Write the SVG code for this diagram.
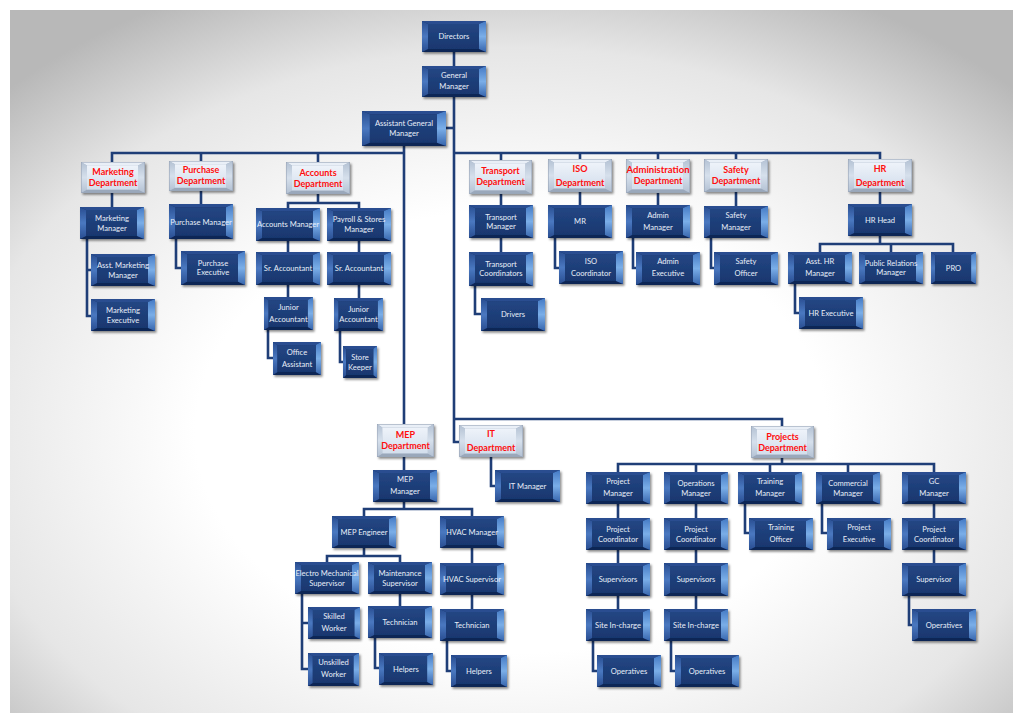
<svg xmlns="http://www.w3.org/2000/svg" xmlns:xlink="http://www.w3.org/1999/xlink" width="1024" height="724" viewBox="0 0 1024 724">
<defs>
<radialGradient id="bg" cx="50%" cy="60%" r="70%">
<stop offset="0.45" stop-color="#ffffff"/>
<stop offset="0.78" stop-color="#e6e6e6"/>
<stop offset="1" stop-color="#b8b8b8"/>
</radialGradient>
<linearGradient id="cg" x1="0" y1="0" x2="0" y2="1">
<stop offset="0" stop-color="#234683"/>
<stop offset="1" stop-color="#19376f"/>
</linearGradient>
<linearGradient id="lb" x1="0" y1="0" x2="0" y2="1">
<stop offset="0" stop-color="#284d90"/>
<stop offset="0.5" stop-color="#4a78c0"/>
<stop offset="1" stop-color="#284d90"/>
</linearGradient>
<linearGradient id="rb" x1="0" y1="0" x2="0" y2="1">
<stop offset="0" stop-color="#4479c4"/>
<stop offset="0.5" stop-color="#7aaee8"/>
<stop offset="1" stop-color="#3765ad"/>
</linearGradient>
<linearGradient id="lcg" x1="0" y1="0" x2="0" y2="1">
<stop offset="0" stop-color="#eef3fa"/>
<stop offset="1" stop-color="#d3deec"/>
</linearGradient>
<linearGradient id="llb" x1="0" y1="0" x2="0" y2="1">
<stop offset="0" stop-color="#b3c1d3"/>
<stop offset="0.5" stop-color="#d6e0ec"/>
<stop offset="1" stop-color="#b3c1d3"/>
</linearGradient>
<filter id="sh" x="-10%" y="-10%" width="125%" height="135%">
<feDropShadow dx="1.5" dy="1.8" stdDeviation="1" flood-color="#000" flood-opacity="0.45"/>
</filter>
<symbol id="dk" viewBox="0 0 64 32" preserveAspectRatio="none">
<rect width="64" height="32" fill="#132d63"/>
<polygon points="0,0 64,0 57,3 6,3" fill="#2a4e90"/>
<polygon points="0,32 6,29 57,29 64,32" fill="#0f2555"/>
<polygon points="0,0 6,3 6,29 0,32" fill="url(#lb)"/>
<polygon points="64,0 57,3 57,29 64,32" fill="url(#rb)"/>
<rect x="6" y="3" width="51" height="26" fill="url(#cg)"/>
</symbol>
<symbol id="lt" viewBox="0 0 64 32" preserveAspectRatio="none">
<rect width="64" height="32" fill="#a7b4c6"/>
<polygon points="0,0 64,0 57,3.5 6,3.5" fill="#e9eff7"/>
<polygon points="0,32 6,28.5 57,28.5 64,32" fill="#9aa8bb"/>
<polygon points="0,0 6,3.5 6,28.5 0,32" fill="url(#llb)"/>
<polygon points="64,0 57,3.5 57,28.5 64,32" fill="url(#llb)"/>
<rect x="6" y="3.5" width="51" height="25" fill="url(#lcg)"/>
<rect x="0.3" y="0.3" width="63.4" height="31.4" fill="none" stroke="#9aa6b8" stroke-width="0.6"/>
</symbol>
</defs>
<style>
.n use{filter:url(#sh)}
.t{font-family:Lato,"Open Sans","Liberation Sans",sans-serif;font-size:7.6px;fill:#e8eef8;text-anchor:middle}
.d{font-family:Lato,"Liberation Sans",sans-serif;font-size:9px;font-weight:bold;fill:#ff0d0d;text-anchor:middle}
.c path{fill:none;stroke:#1f3e77;stroke-width:2.6;stroke-linejoin:miter}
</style>
<rect width="1024" height="724" fill="#ffffff"/>
<rect x="10" y="10" width="1003" height="703" fill="url(#bg)"/>

<g id="connectors" class="c">
<path d="M454 52V66"/>
<path d="M454 97V442H459"/>
<path d="M446 128H454"/>
<path d="M404 146V424"/>
<path d="M112 162V153H404"/>
<path d="M201 153V161"/>
<path d="M318 153V162"/>
<path d="M454 153H880V159"/>
<path d="M501 153V160M580 153V159M658 153V159M736 153V159"/>
<path d="M454 419H782V426"/>
<path d="M112 193V207M87 239V316H91M87 270H91"/>
<path d="M201 190V204M176 239V268H181"/>
<path d="M318 194V203M288 208V203H359V208M288 241V252M288 285V297M268 330V358H273M359 241V252M359 285V298M340 331V362H343"/>
<path d="M501 194V205M501 238V252M475 286V314H481"/>
<path d="M580 192V205M555 238V268H559"/>
<path d="M658 193V205M633 238V268H636"/>
<path d="M736 192V206M711 238V268H714"/>
<path d="M880 192V204M880 236V244M820 252V244H953V252M891 244V252M795 284V313H799"/>
<path d="M404 457V470M404 502V509M364 516V509H472V516M364 548V556M327 562V556H400V562M302 594V669H308M302 623H308M400 594V606M375 638V668H379M472 548V563M472 595V609M447 641V671H451"/>
<path d="M491 457V486H495"/>
<path d="M782 458V464M618 472V464H934V472M696 464V472M770 464V472M848 464V472"/>
<path d="M618 504V518M618 550V563M618 596V609M593 641V671H597"/>
<path d="M696 504V518M696 550V563M696 596V609M671 641V671H675"/>
<path d="M745 504V533H749M822 504V533H827"/>
<path d="M934 504V518M934 550V563M909 596V625H912"/>
</g>

<g id="directors" class="n"><use href="#dk" x="422" y="21" width="64" height="31"/><text class="t" x="454" y="39.2">Directors</text></g>
<g id="general-manager" class="n"><use href="#dk" x="422" y="66" width="64" height="31"/><text class="t" x="454" y="78"><tspan x="454">General</tspan><tspan x="454" dy="11">Manager</tspan></text></g>
<g id="assistant-general-manager" class="n"><use href="#dk" x="362" y="111" width="84" height="35"/><text class="t" x="404" y="126"><tspan x="404">Assistant General</tspan><tspan x="404" dy="10">Manager</tspan></text></g>

<g id="marketing-department" class="n"><use href="#lt" x="81" y="162" width="64" height="31"/><text class="d" x="113" y="175"><tspan x="113">Marketing</tspan><tspan x="113" dy="11">Department</tspan></text></g>
<g id="purchase-department" class="n"><use href="#lt" x="169" y="161" width="64" height="30"/><text class="d" x="201" y="173"><tspan x="201">Purchase</tspan><tspan x="201" dy="10.5">Department</tspan></text></g>
<g id="accounts-department" class="n"><use href="#lt" x="286" y="162" width="64" height="32"/><text class="d" x="318" y="175.5"><tspan x="318">Accounts</tspan><tspan x="318" dy="11">Department</tspan></text></g>
<g id="transport-department" class="n"><use href="#lt" x="469" y="160" width="63" height="34"/><text class="d" x="500.5" y="174"><tspan x="500.5">Transport</tspan><tspan x="500.5" dy="11">Department</tspan></text></g>
<g id="iso-department" class="n"><use href="#lt" x="548" y="159" width="64" height="33"/><text class="d" x="580" y="171.5"><tspan x="580">ISO</tspan><tspan x="580" dy="14">Department</tspan></text></g>
<g id="administration-department" class="n"><use href="#lt" x="626" y="159" width="64" height="34"/><text class="d" x="658" y="173"><tspan x="658" textLength="63" lengthAdjust="spacingAndGlyphs">Administration</tspan><tspan x="658" dy="10.5">Department</tspan></text></g>
<g id="safety-department" class="n"><use href="#lt" x="704" y="159" width="64" height="33"/><text class="d" x="736" y="173"><tspan x="736">Safety</tspan><tspan x="736" dy="11">Department</tspan></text></g>
<g id="hr-department" class="n"><use href="#lt" x="848" y="159" width="64" height="33"/><text class="d" x="880" y="171.5"><tspan x="880">HR</tspan><tspan x="880" dy="14">Department</tspan></text></g>
<g id="mep-department" class="n"><use href="#lt" x="377" y="424" width="57" height="33"/><text class="d" x="405.5" y="438"><tspan x="405.5">MEP</tspan><tspan x="405.5" dy="10.5">Department</tspan></text></g>
<g id="it-department" class="n"><use href="#lt" x="459" y="425" width="64" height="32"/><text class="d" x="491" y="437"><tspan x="491">IT</tspan><tspan x="491" dy="14">Department</tspan></text></g>
<g id="projects-department" class="n"><use href="#lt" x="751" y="426" width="63" height="32"/><text class="d" x="782.5" y="440"><tspan x="782.5">Projects</tspan><tspan x="782.5" dy="10.5">Department</tspan></text></g>

<g id="marketing-manager" class="n"><use href="#dk" x="80" y="207" width="64" height="32"/><text class="t" x="112" y="221"><tspan x="112">Marketing</tspan><tspan x="112" dy="10">Manager</tspan></text></g>
<g id="asst-marketing-manager" class="n"><use href="#dk" x="91" y="254" width="64" height="32"/><text class="t" x="123" y="268"><tspan x="123">Asst. Marketing</tspan><tspan x="123" dy="9.5">Manager</tspan></text></g>
<g id="marketing-executive" class="n"><use href="#dk" x="91" y="299" width="64" height="32"/><text class="t" x="123" y="313"><tspan x="123">Marketing</tspan><tspan x="123" dy="9.5">Executive</tspan></text></g>
<g id="purchase-manager" class="n"><use href="#dk" x="169" y="204" width="64" height="35"/><text class="t" x="201" y="224.5">Purchase Manager</text></g>
<g id="purchase-executive" class="n"><use href="#dk" x="181" y="251" width="64" height="34"/><text class="t" x="213" y="265.5"><tspan x="213">Purchase</tspan><tspan x="213" dy="9.5">Executive</tspan></text></g>
<g id="accounts-manager" class="n"><use href="#dk" x="256" y="208" width="64" height="33"/><text class="t" x="288" y="227">Accounts Manager</text></g>
<g id="payroll-stores-manager" class="n"><use href="#dk" x="327" y="208" width="64" height="33"/><text class="t" x="359" y="222"><tspan x="359">Payroll &amp; Stores</tspan><tspan x="359" dy="9.5">Manager</tspan></text></g>
<g id="sr-accountant-1" class="n"><use href="#dk" x="256" y="252" width="64" height="33"/><text class="t" x="288" y="271">Sr. Accountant</text></g>
<g id="sr-accountant-2" class="n"><use href="#dk" x="327" y="252" width="64" height="33"/><text class="t" x="359" y="271">Sr. Accountant</text></g>
<g id="junior-accountant-1" class="n"><use href="#dk" x="264" y="297" width="49" height="33"/><text class="t" x="288.5" y="309.5"><tspan x="288.5">Junior</tspan><tspan x="288.5" dy="12">Accountant</tspan></text></g>
<g id="junior-accountant-2" class="n"><use href="#dk" x="334" y="298" width="49" height="33"/><text class="t" x="358.5" y="312"><tspan x="358.5">Junior</tspan><tspan x="358.5" dy="9.5">Accountant</tspan></text></g>
<g id="office-assistant" class="n"><use href="#dk" x="273" y="342" width="48" height="33"/><text class="t" x="297" y="355"><tspan x="297">Office</tspan><tspan x="297" dy="12">Assistant</tspan></text></g>
<g id="store-keeper" class="n"><use href="#dk" x="343" y="346" width="34" height="32"/><text class="t" x="360" y="360"><tspan x="360">Store</tspan><tspan x="360" dy="9.5">Keeper</tspan></text></g>

<g id="transport-manager" class="n"><use href="#dk" x="469" y="205" width="64" height="33"/><text class="t" x="501" y="219.5"><tspan x="501">Transport</tspan><tspan x="501" dy="9.5">Manager</tspan></text></g>
<g id="transport-coordinators" class="n"><use href="#dk" x="469" y="252" width="64" height="34"/><text class="t" x="501" y="266.5"><tspan x="501">Transport</tspan><tspan x="501" dy="9.5">Coordinators</tspan></text></g>
<g id="drivers" class="n"><use href="#dk" x="481" y="298" width="64" height="33"/><text class="t" x="513" y="317">Drivers</text></g>
<g id="mr" class="n"><use href="#dk" x="548" y="205" width="64" height="33"/><text class="t" x="580" y="224">MR</text></g>
<g id="iso-coordinator" class="n"><use href="#dk" x="559" y="251" width="64" height="33"/><text class="t" x="591" y="264"><tspan x="591">ISO</tspan><tspan x="591" dy="12">Coordinator</tspan></text></g>
<g id="admin-manager" class="n"><use href="#dk" x="626" y="205" width="64" height="33"/><text class="t" x="658" y="218"><tspan x="658">Admin</tspan><tspan x="658" dy="12">Manager</tspan></text></g>
<g id="admin-executive" class="n"><use href="#dk" x="636" y="252" width="64" height="33"/><text class="t" x="668" y="264"><tspan x="668">Admin</tspan><tspan x="668" dy="12">Executive</tspan></text></g>
<g id="safety-manager" class="n"><use href="#dk" x="704" y="206" width="64" height="32"/><text class="t" x="736" y="218"><tspan x="736">Safety</tspan><tspan x="736" dy="12">Manager</tspan></text></g>
<g id="safety-officer" class="n"><use href="#dk" x="714" y="252" width="64" height="33"/><text class="t" x="746" y="264"><tspan x="746">Safety</tspan><tspan x="746" dy="12">Officer</tspan></text></g>
<g id="hr-head" class="n"><use href="#dk" x="848" y="204" width="64" height="32"/><text class="t" x="880" y="222.5">HR Head</text></g>
<g id="asst-hr-manager" class="n"><use href="#dk" x="788" y="252" width="64" height="32"/><text class="t" x="820" y="264"><tspan x="820">Asst. HR</tspan><tspan x="820" dy="12">Manager</tspan></text></g>
<g id="public-relations-manager" class="n"><use href="#dk" x="859" y="252" width="64" height="32"/><text class="t" x="891" y="265.5"><tspan x="891">Public Relations</tspan><tspan x="891" dy="9.5">Manager</tspan></text></g>
<g id="pro" class="n"><use href="#dk" x="931" y="252" width="45" height="32"/><text class="t" x="953.5" y="270.5">PRO</text></g>
<g id="hr-executive" class="n"><use href="#dk" x="799" y="297" width="64" height="32"/><text class="t" x="831" y="315.5">HR Executive</text></g>

<g id="mep-manager" class="n"><use href="#dk" x="373" y="470" width="64" height="32"/><text class="t" x="405" y="482"><tspan x="405">MEP</tspan><tspan x="405" dy="12">Manager</tspan></text></g>
<g id="mep-engineer" class="n"><use href="#dk" x="332" y="516" width="64" height="32"/><text class="t" x="364" y="534.5">MEP Engineer</text></g>
<g id="hvac-manager" class="n"><use href="#dk" x="440" y="516" width="64" height="32"/><text class="t" x="472" y="534.5">HVAC Manager</text></g>
<g id="electro-mechanical-supervisor" class="n"><use href="#dk" x="295" y="562" width="64" height="32"/><text class="t" x="327" y="576"><tspan x="327" textLength="63" lengthAdjust="spacingAndGlyphs">Electro Mechanical</tspan><tspan x="327" dy="9.5">Supervisor</tspan></text></g>
<g id="maintenance-supervisor" class="n"><use href="#dk" x="368" y="562" width="64" height="32"/><text class="t" x="400" y="576"><tspan x="400">Maintenance</tspan><tspan x="400" dy="9.5">Supervisor</tspan></text></g>
<g id="hvac-supervisor" class="n"><use href="#dk" x="440" y="563" width="64" height="32"/><text class="t" x="472" y="581.5">HVAC Supervisor</text></g>
<g id="skilled-worker" class="n"><use href="#dk" x="308" y="607" width="52" height="32"/><text class="t" x="334" y="619"><tspan x="334">Skilled</tspan><tspan x="334" dy="12">Worker</tspan></text></g>
<g id="unskilled-worker" class="n"><use href="#dk" x="308" y="653" width="51" height="33"/><text class="t" x="333.5" y="665"><tspan x="333.5">Unskilled</tspan><tspan x="333.5" dy="12">Worker</tspan></text></g>
<g id="mep-technician" class="n"><use href="#dk" x="368" y="606" width="64" height="32"/><text class="t" x="400" y="624.5">Technician</text></g>
<g id="mep-helpers" class="n"><use href="#dk" x="379" y="653" width="54" height="32"/><text class="t" x="406" y="671.5">Helpers</text></g>
<g id="hvac-technician" class="n"><use href="#dk" x="440" y="609" width="64" height="32"/><text class="t" x="472" y="627.5">Technician</text></g>
<g id="hvac-helpers" class="n"><use href="#dk" x="451" y="655" width="56" height="32"/><text class="t" x="479" y="673.5">Helpers</text></g>
<g id="it-manager" class="n"><use href="#dk" x="495" y="470" width="65" height="32"/><text class="t" x="527.5" y="488.5">IT Manager</text></g>

<g id="project-manager" class="n"><use href="#dk" x="586" y="472" width="64" height="32"/><text class="t" x="618" y="484"><tspan x="618">Project</tspan><tspan x="618" dy="12">Manager</tspan></text></g>
<g id="operations-manager" class="n"><use href="#dk" x="664" y="472" width="64" height="32"/><text class="t" x="696" y="486"><tspan x="696">Operations</tspan><tspan x="696" dy="9.5">Manager</tspan></text></g>
<g id="training-manager" class="n"><use href="#dk" x="738" y="472" width="64" height="32"/><text class="t" x="770" y="484"><tspan x="770">Training</tspan><tspan x="770" dy="12">Manager</tspan></text></g>
<g id="commercial-manager" class="n"><use href="#dk" x="816" y="472" width="64" height="32"/><text class="t" x="848" y="486"><tspan x="848">Commercial</tspan><tspan x="848" dy="9.5">Manager</tspan></text></g>
<g id="gc-manager" class="n"><use href="#dk" x="902" y="472" width="64" height="32"/><text class="t" x="934" y="484"><tspan x="934">GC</tspan><tspan x="934" dy="12">Manager</tspan></text></g>
<g id="project-coordinator-1" class="n"><use href="#dk" x="586" y="518" width="64" height="32"/><text class="t" x="618" y="532"><tspan x="618">Project</tspan><tspan x="618" dy="9.5">Coordinator</tspan></text></g>
<g id="project-coordinator-2" class="n"><use href="#dk" x="664" y="518" width="64" height="32"/><text class="t" x="696" y="532"><tspan x="696">Project</tspan><tspan x="696" dy="9.5">Coordinator</tspan></text></g>
<g id="training-officer" class="n"><use href="#dk" x="749" y="518" width="64" height="32"/><text class="t" x="781" y="530"><tspan x="781">Training</tspan><tspan x="781" dy="12">Officer</tspan></text></g>
<g id="project-executive" class="n"><use href="#dk" x="827" y="518" width="64" height="32"/><text class="t" x="859" y="530"><tspan x="859">Project</tspan><tspan x="859" dy="12">Executive</tspan></text></g>
<g id="project-coordinator-3" class="n"><use href="#dk" x="902" y="518" width="64" height="32"/><text class="t" x="934" y="532"><tspan x="934">Project</tspan><tspan x="934" dy="9.5">Coordinator</tspan></text></g>
<g id="supervisors-1" class="n"><use href="#dk" x="586" y="563" width="64" height="33"/><text class="t" x="618" y="582">Supervisors</text></g>
<g id="supervisors-2" class="n"><use href="#dk" x="664" y="563" width="64" height="33"/><text class="t" x="696" y="582">Supervisors</text></g>
<g id="supervisor-gc" class="n"><use href="#dk" x="902" y="563" width="64" height="33"/><text class="t" x="934" y="582">Supervisor</text></g>
<g id="site-in-charge-1" class="n"><use href="#dk" x="586" y="609" width="64" height="32"/><text class="t" x="618" y="627.5">Site In-charge</text></g>
<g id="site-in-charge-2" class="n"><use href="#dk" x="664" y="609" width="64" height="32"/><text class="t" x="696" y="627.5">Site In-charge</text></g>
<g id="operatives-gc" class="n"><use href="#dk" x="912" y="609" width="64" height="32"/><text class="t" x="944" y="627.5">Operatives</text></g>
<g id="operatives-1" class="n"><use href="#dk" x="597" y="655" width="64" height="32"/><text class="t" x="629" y="673.5">Operatives</text></g>
<g id="operatives-2" class="n"><use href="#dk" x="675" y="655" width="64" height="32"/><text class="t" x="707" y="673.5">Operatives</text></g>
</svg>
